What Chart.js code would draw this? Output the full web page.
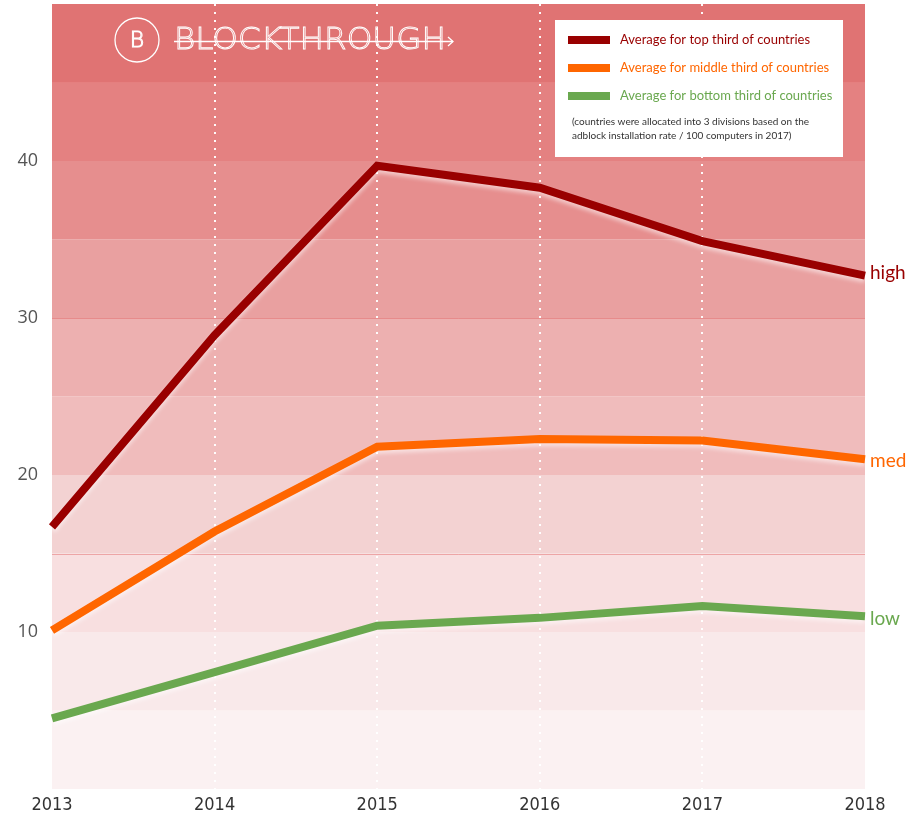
<!DOCTYPE html>
<html>
<head>
<meta charset="utf-8">
<script src="https://cdn.jsdelivr.net/npm/chart.js@4/dist/chart.umd.min.js"></script>
<style>
html,body{margin:0;padding:0;background:#fff;}
#wrap{position:relative;width:908px;height:819px;}
</style>
</head>
<body>
<div id="wrap"><canvas id="c" width="908" height="819"></canvas></div>
<script>
// ---- data ----
const years = ['2013','2014','2015','2016','2017','2018'];
const highValues = [16.7, 28.9, 39.7, 38.3, 34.9, 32.7];
const medValues  = [10.1, 16.4, 21.8, 22.3, 22.2, 21.0];
const lowValues  = [4.5, 7.45, 10.4, 10.9, 11.65, 11.0];
const seriesNames = ['Average for top third of countries','Average for middle third of countries','Average for bottom third of countries'];
const endLabels = ['high','med','low'];
const yTickValues = [10, 20, 30, 40];
const noteLines = ['(countries were allocated into 3 divisions based on the','adblock installation rate / 100 computers in 2017)'];

// ---- style ----
const colors = ['#990000','#ff6600','#6aa84f'];
const endLabelShift = [-3, 2, 3];
const bandColors = ['#fbf1f2','#f9e9ea','#f8dfe0','#f3d2d2','#f0bcbc','#edb0b0','#e9a0a0','#e68e8e','#e48181','#e07373'];

const bandsPlugin = {
  id:'bands',
  beforeDraw(chart){
    const {ctx, chartArea:a, scales:{y}} = chart;
    ctx.save();
    for(let i=0;i<10;i++){
      const top = y.getPixelForValue((i+1)*5), bot = y.getPixelForValue(i*5);
      ctx.fillStyle = bandColors[i];
      ctx.fillRect(a.left, top, a.right-a.left, bot-top);
    }
    ctx.strokeStyle = 'rgba(225,95,95,0.45)';
    ctx.lineWidth = 1;
    [15,30,45].forEach(v=>{
      const p = Math.round(y.getPixelForValue(v))+0.5;
      ctx.beginPath(); ctx.moveTo(a.left,p); ctx.lineTo(a.right,p); ctx.stroke();
    });
    ctx.restore();
  },
  beforeDatasetDraw(chart){
    chart.ctx.save();
    chart.ctx.shadowColor='rgba(255,255,255,0.55)';
    chart.ctx.shadowOffsetY=3;
    chart.ctx.shadowBlur=4;
  },
  afterDatasetDraw(chart){ chart.ctx.restore(); },
  afterDraw(chart){
    const {ctx, chartArea:a, scales:{x,y}} = chart;
    ctx.save();
    // logo
    ctx.strokeStyle='#fff'; ctx.fillStyle='#fff'; ctx.lineWidth=1.3;
    ctx.beginPath(); ctx.arc(137,40,22,0,Math.PI*2); ctx.stroke();
    ctx.font='300 22px "DejaVu Sans"'; ctx.textAlign='center'; ctx.textBaseline='middle';
    ctx.lineWidth=1; ctx.strokeText('B',137,41);
    ctx.textAlign='left';
    ctx.font='300 30px "DejaVu Sans"';
    const txt='BLOCKTHROUGH';
    const w=ctx.measureText(txt).width;
    ctx.save(); ctx.translate(174,41); ctx.scale(272/w,1);
    ctx.lineWidth=0.9; ctx.strokeText(txt,0,0); ctx.restore();
    ctx.lineWidth=1.3;
    ctx.beginPath(); ctx.moveTo(174,41.5); ctx.lineTo(453,41.5); ctx.stroke();
    ctx.beginPath(); ctx.moveTo(448,37); ctx.lineTo(453,41.5); ctx.lineTo(448,46); ctx.stroke();
    // legend box
    ctx.fillStyle='#fff'; ctx.fillRect(555,20,288,137);
    const ys=[40,68,96];
    ctx.font='13px Lato'; ctx.textBaseline='middle';
    seriesNames.forEach((n,i)=>{
      ctx.fillStyle=colors[i]; ctx.fillRect(568,ys[i]-4,42,8);
      ctx.fillText(n,620,ys[i]);
    });
    ctx.fillStyle='#333'; ctx.font='10px Lato';
    ctx.fillText(noteLines[0],572,122);
    ctx.fillText(noteLines[1],572,136);
    // end labels
    ctx.font='19px Lato'; ctx.textBaseline='middle'; ctx.textAlign='left';
    [highValues,medValues,lowValues].forEach((arr,i)=>{
      const last=arr[arr.length-1];
      ctx.fillStyle=colors[i];
      ctx.fillText(endLabels[i], a.right+5, y.getPixelForValue(last)+endLabelShift[i]);
    });
    ctx.restore();
  }
};

const mk=(label,data,i)=>({label,data,borderColor:colors[i],backgroundColor:colors[i],borderWidth:8,pointRadius:0,pointHoverRadius:0,tension:0,fill:false,borderCapStyle:'butt',borderJoinStyle:'miter'});

new Chart(document.getElementById('c'),{
  type:'line',
  data:{labels:years,datasets:[mk(seriesNames[0],highValues,0),mk(seriesNames[1],medValues,1),mk(seriesNames[2],lowValues,2)]},
  options:{
    responsive:false,animation:false,
    layout:{padding:{top:4,right:43,left:0,bottom:0}},
    plugins:{legend:{display:false},tooltip:{enabled:false}},
    scales:{
      x:{
        offset:false,
        grid:{drawTicks:false,lineWidth:2,color:(c)=>(c.index>0&&c.index<years.length-1)?'rgba(255,255,255,0.95)':'rgba(0,0,0,0)'},
        border:{display:false,dash:[2,6]},
        ticks:{padding:6,color:'#333',font:{family:'"Liberation Sans Narrow","DejaVu Sans Condensed",sans-serif',size:18},maxRotation:0},
        afterFit(s){s.height=30;s.paddingLeft=0;s.paddingRight=0;}
      },
      y:{
        min:0,max:50,
        grid:{display:false,drawTicks:false},
        border:{display:false},
        afterBuildTicks(s){s.ticks=yTickValues.map(v=>({value:v}));},
        ticks:{padding:14,color:'#555',font:{family:'"Open Sans",sans-serif',size:18}},
        afterFit(s){s.width=52;s.paddingTop=0;s.paddingBottom=0;}
      }
    }
  },
  plugins:[bandsPlugin]
});
</script>
</body>
</html>
